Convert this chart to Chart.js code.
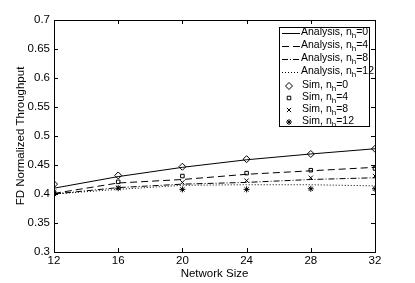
<!DOCTYPE html>
<html>
<head>
<meta charset="utf-8">
<script src="https://cdn.jsdelivr.net/npm/chart.js@4"></script>
<style>
  html, body { margin: 0; padding: 0; background: #fff; }
  #wrap { width: 415px; height: 283px; }
</style>
</head>
<body>
<div id="wrap"><canvas id="myChart" width="415" height="283"></canvas></div>
<script>
const sizes = [12, 16, 20, 24, 28, 32];
const yTicks = [0.3, 0.35, 0.4, 0.45, 0.5, 0.55, 0.6, 0.65, 0.7];

const analysis0 = [0.410, 0.430, 0.446, 0.459, 0.469, 0.478];
const analysis4 = [0.401, 0.419, 0.425, 0.434, 0.440, 0.446];
const analysis8 = [0.400, 0.411, 0.417, 0.420, 0.425, 0.428];
const analysis12 = [0.400, 0.408, 0.415, 0.416, 0.416, 0.414];

const sim0 = [0.417, 0.432, 0.447, 0.460, 0.469, 0.478];
const sim4 = [0.402, 0.421, 0.431, 0.436, 0.441, 0.444];
const sim8 = [0.404, 0.411, 0.420, 0.423, 0.428, 0.431];
const sim12 = [0.400, 0.410, 0.408, 0.408, 0.409, 0.409];

const FONT = '"Liberation Sans", Arial, sans-serif';

function pts(arr) {
    return arr.map((v, i) => ({ x: sizes[i], y: v }));
}

function lineSet(label, arr, dash) {
    return {
        label: label, data: pts(arr), showLine: true, borderColor: '#000', borderWidth: 1,
        borderDash: dash, pointRadius: 0, fill: false, tension: 0
    };
}

function simSet(label, arr, style, r) {
    return {
        label: label, data: pts(arr), showLine: false, borderColor: '#000',
        backgroundColor: 'rgba(0,0,0,0)', borderWidth: 1,
        pointStyle: style, pointRadius: r
    };
}

const datasets = [
    lineSet('Analysis, n|h|=0', analysis0, []),
    lineSet('Analysis, n|h|=4', analysis4, [7, 4]),
    lineSet('Analysis, n|h|=8', analysis8, [6, 2, 1, 2]),
    lineSet('Analysis, n|h|=12', analysis12, [1, 2]),
    simSet('Sim, n|h|=0', sim0, 'rectRot', 3.5),
    simSet('Sim, n|h|=4', sim4, 'rect', 2.5),
    simSet('Sim, n|h|=8', sim8, 'crossRot', 3),
    simSet('Sim, n|h|=12', sim12, 'star', 3)
];

// inward ticks on all four sides, MATLAB style
const innerTicks = {
    id: 'innerTicks',
    afterDatasetsDraw(chart) {
        const ctx = chart.ctx, a = chart.chartArea;
        const xs = chart.scales.x, ys = chart.scales.y;
        ctx.save();
        ctx.strokeStyle = '#000';
        ctx.lineWidth = 1;
        ctx.beginPath();
        sizes.forEach(v => {
            const p = Math.round(xs.getPixelForValue(v)) + 0.5;
            ctx.moveTo(p, a.bottom); ctx.lineTo(p, a.bottom - 4);
            ctx.moveTo(p, a.top); ctx.lineTo(p, a.top + 4);
        });
        yTicks.forEach(v => {
            const p = Math.round(ys.getPixelForValue(v)) + 0.5;
            ctx.moveTo(a.left, p); ctx.lineTo(a.left + 4, p);
            ctx.moveTo(a.right, p); ctx.lineTo(a.right - 4, p);
        });
        ctx.stroke();
        ctx.strokeRect(Math.round(a.left) + 0.5, Math.round(a.top) + 0.5,
            Math.round(a.right - a.left), Math.round(a.bottom - a.top));
        ctx.restore();
    }
};

// legend box inside the plot
const boxLegend = {
    id: 'boxLegend',
    afterDraw(chart) {
        const ctx = chart.ctx;
        const bx = 279.5, by = 27.5, bw = 90, bh = 99;
        ctx.save();
        ctx.fillStyle = '#fff';
        ctx.fillRect(bx, by, bw, bh);
        ctx.strokeStyle = '#000';
        ctx.lineWidth = 1;
        ctx.strokeRect(bx, by, bw, bh);
        const rows = [33, 46, 59, 72, 86, 98, 110, 122];
        chart.data.datasets.forEach((ds, i) => {
            const y = rows[i];
            let tx;
            if (i < 4) {
                ctx.beginPath();
                ctx.setLineDash(ds.borderDash);
                ctx.moveTo(282, y + 0.5);
                ctx.lineTo(300, y + 0.5);
                ctx.stroke();
                ctx.setLineDash([]);
                tx = 301;
            } else {
                ctx.fillStyle = 'rgba(0,0,0,0)';
                ctx.strokeStyle = '#000';
                Chart.helpers.drawPoint(ctx, {
                    pointStyle: ds.pointStyle, radius: ds.pointRadius, rotation: 0, borderWidth: 1
                }, 289, y);
                tx = 302;
            }
            const parts = ds.label.split('|');
            ctx.fillStyle = '#000';
            ctx.textBaseline = 'middle';
            ctx.font = '10.5px ' + FONT;
            ctx.fillText(parts[0], tx, y - 1);
            let w = ctx.measureText(parts[0]).width;
            ctx.font = '8px ' + FONT;
            ctx.fillText(parts[1], tx + w, y + 3);
            w += ctx.measureText(parts[1]).width;
            ctx.font = '10.5px ' + FONT;
            ctx.fillText(parts[2], tx + w, y - 1);
        });
        ctx.restore();
    }
};

Chart.defaults.font.family = FONT;
Chart.defaults.color = '#000';

const config = {
    type: 'scatter',
    data: { datasets: datasets },
    options: {
        responsive: false,
        animation: false,
        layout: { padding: { top: 20, right: 40, left: 14, bottom: 2 } },
        plugins: { legend: { display: false }, tooltip: { enabled: false } },
        scales: {
            x: {
                type: 'linear', min: 12, max: 32,
                grid: { display: false, drawTicks: false },
                border: { display: false },
                afterBuildTicks: s => { s.ticks = sizes.map(v => ({ value: v })); },
                afterFit: s => { s.height = 29; },
                ticks: { font: { size: 11.5 }, padding: 2, maxRotation: 0 },
                title: { display: true, text: 'Network Size', font: { size: 11.5 }, padding: 0 }
            },
            y: {
                min: 0.3, max: 0.7,
                grid: { display: false, drawTicks: false },
                border: { display: false },
                afterBuildTicks: s => { s.ticks = yTicks.map(v => ({ value: v })); },
                afterFit: s => { s.width = 40; },
                ticks: { font: { size: 11.5 }, padding: 4, callback: v => String(+v.toFixed(2)) },
                title: { display: true, text: 'FD Normalized Throughput', font: { size: 11.5 }, padding: 0 }
            }
        }
    },
    plugins: [innerTicks, boxLegend]
};

var myChart = new Chart(document.getElementById('myChart'), config);
</script>
</body>
</html>
